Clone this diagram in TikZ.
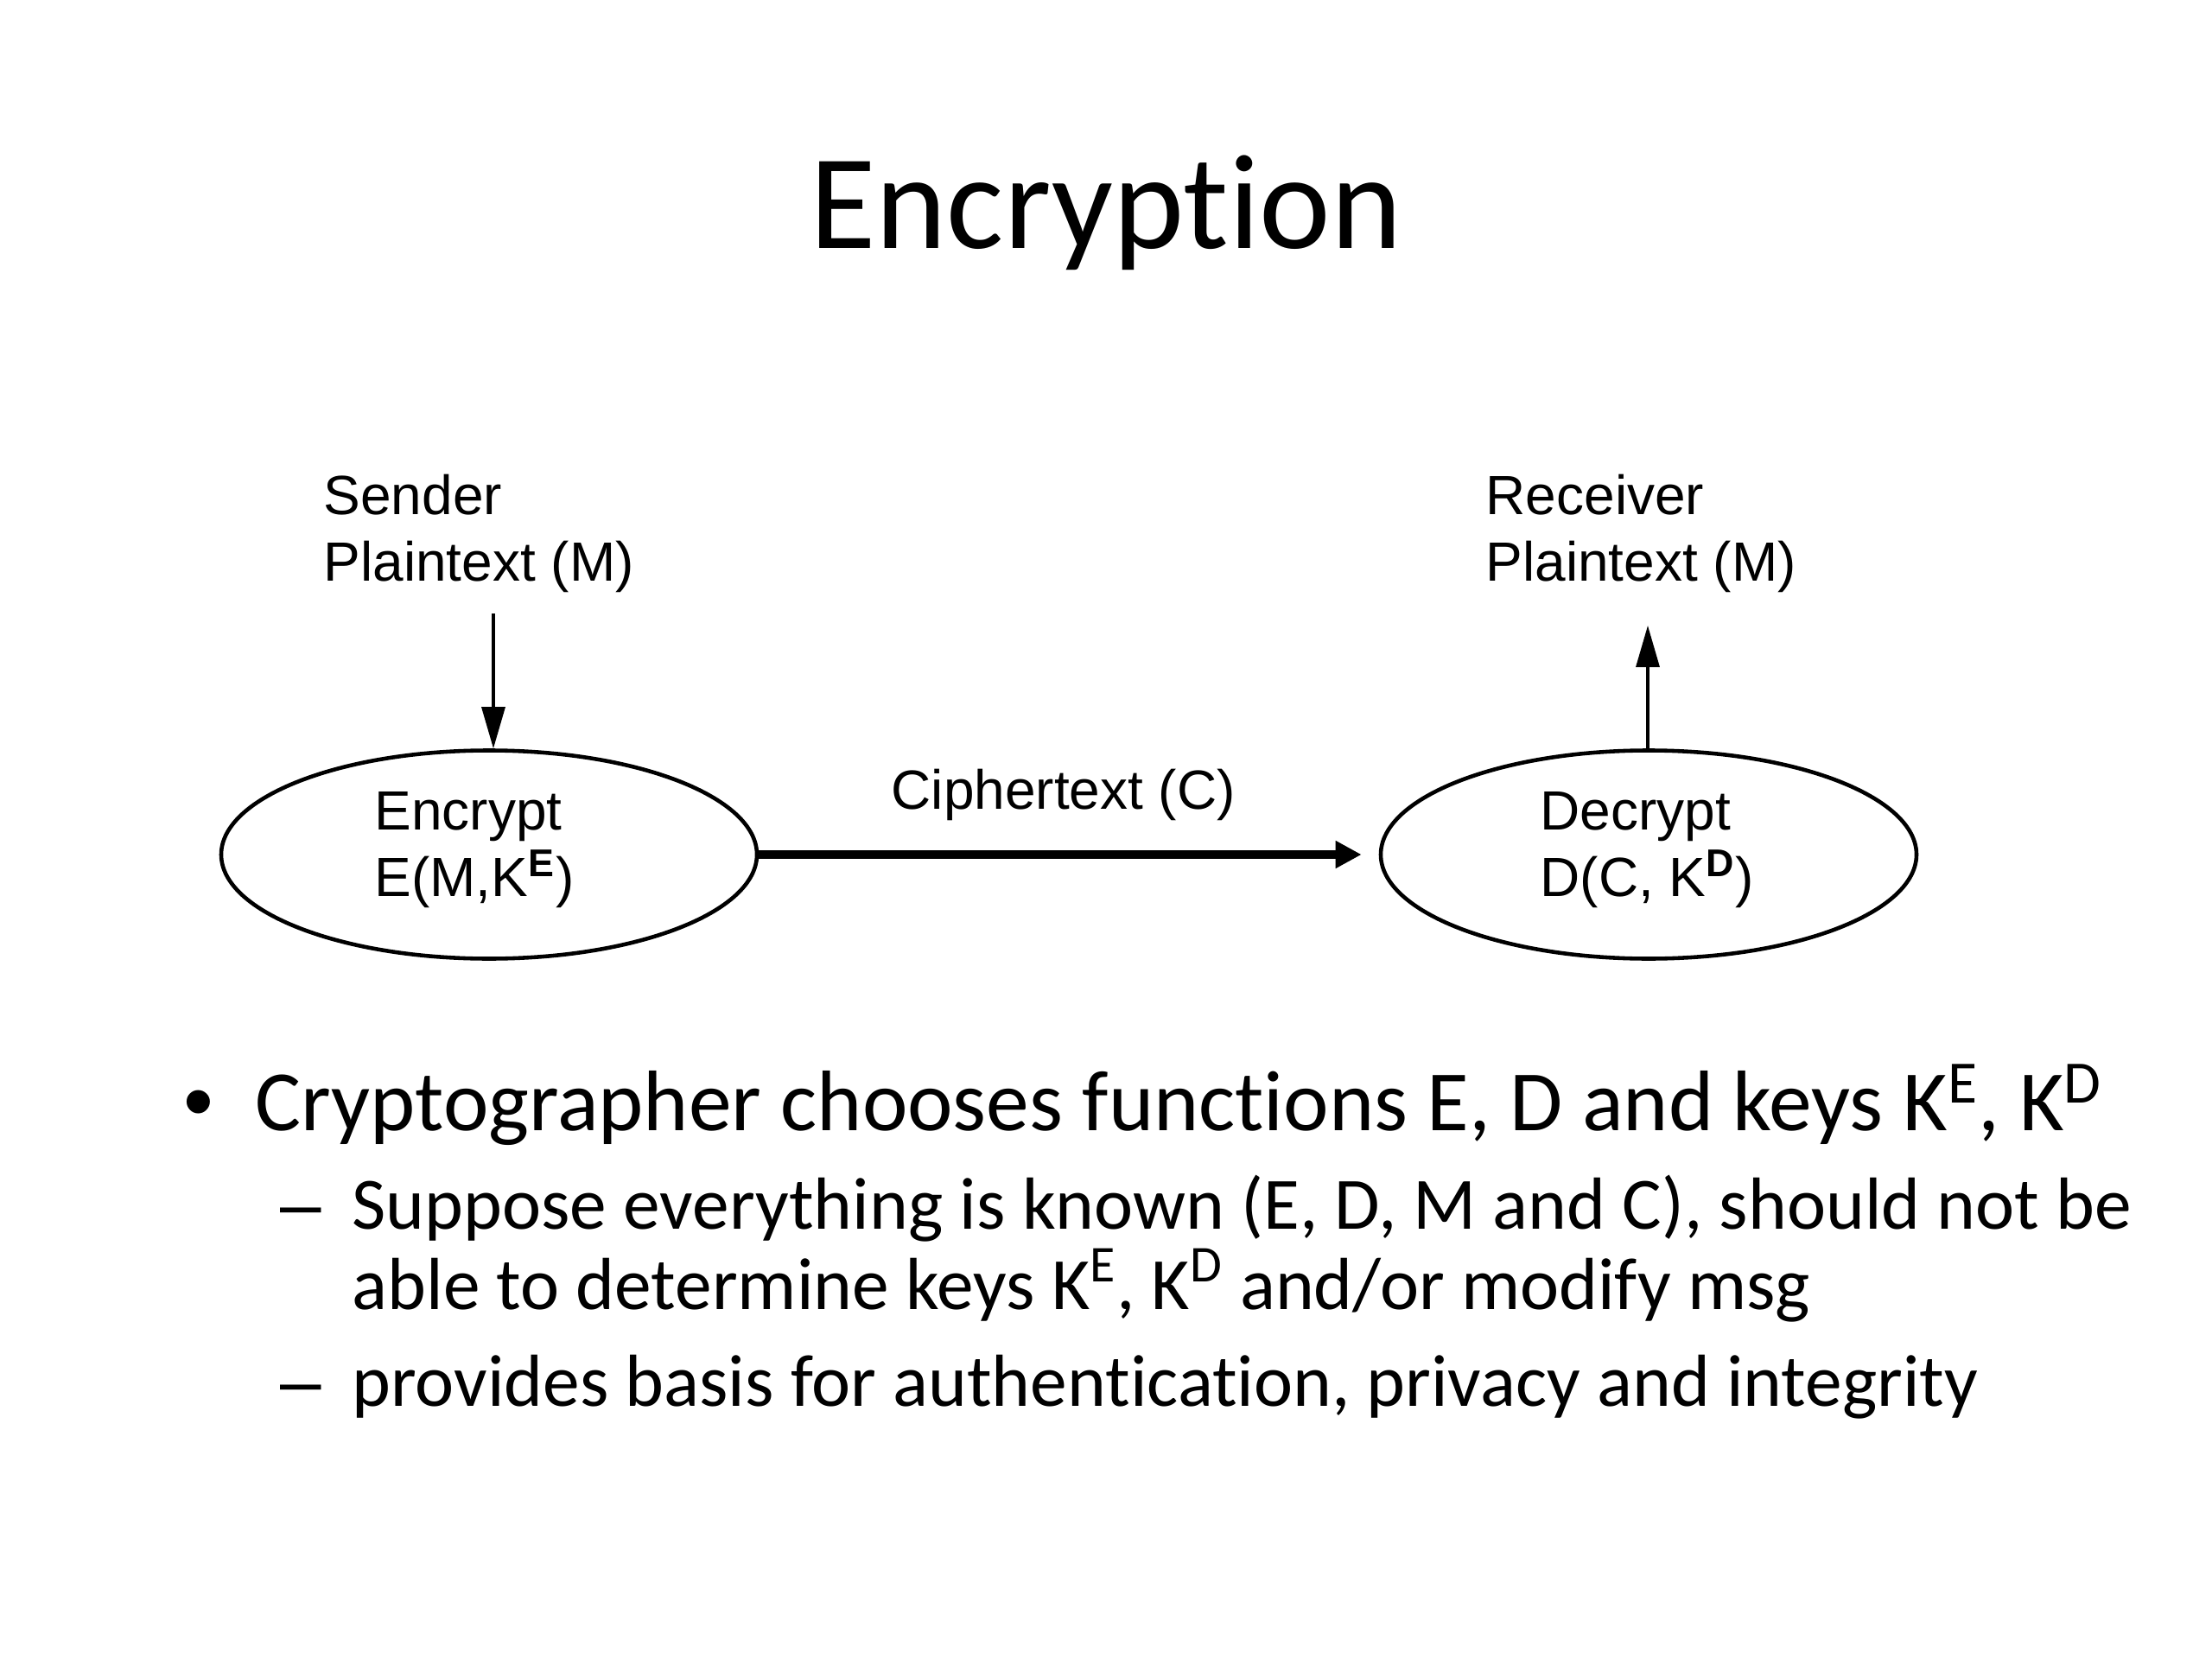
\documentclass[tikz,border=0pt]{standalone}
\usepackage{fontspec}
\setmainfont{Carlito}[Ligatures=CommonOff]
\newfontfamily\arialfont{Liberation Sans}
\usetikzlibrary{shapes.geometric,arrows.meta}

\begin{document}
\begin{tikzpicture}[
        lbl/.style={font=\arialfont\fontsize{18.2}{21.7}\selectfont, align=left, inner sep=0pt},
        proc/.style={draw, ellipse, line width=1.3pt, minimum width=6.2cm, minimum height=2.41cm, inner sep=0pt},
        flow/.style={line width=0.9pt, -{Triangle[length=4.8mm,width=2.7mm]}},
        channel/.style={line width=3pt, -{Triangle[length=3mm,width=3mm]}, shorten >=0.2cm},
        txt/.style={anchor=base west, inner sep=0pt}
    ]
        \useasboundingbox[fill=white] (0,0) rectangle (25.6,-19.2);
        \node[anchor=base, inner sep=0pt] (title) at (12.80,-2.88) {\fontsize{44.5}{53}\selectfont Encryption};

        % multi-line labels sit on their last baseline
        \node[lbl, anchor=base west] (sender) at (3.74,-6.72) {Sender\\Plaintext (M)};
        \node[lbl, anchor=base west] (receiver) at (17.19,-6.72) {Receiver\\Plaintext (M)};

        \node[proc] (enc) at (5.66,-9.89) {};
        \node[proc] (dec) at (19.08,-9.89) {};
        \node[lbl, anchor=base west] (enclbl) at (4.33,-10.37) {Encrypt\\E(M,K\textsuperscript{\bfseries E})};
        \node[lbl, anchor=base west] (declbl) at (17.82,-10.37) {Decrypt\\D(C, K\textsuperscript{\bfseries D})};
        \node[lbl, anchor=base west] (ciph) at (10.31,-9.36) {Ciphertext (C)};

        \coordinate (sendend) at (5.71,-7.10);
        \coordinate (recvend) at (19.07,-7.24);
        \draw[flow] (sendend) -- (sendend |- enc.north);
        \draw[flow] (recvend |- dec.north) -- (recvend);
        \draw[channel] (enc.east) -- (dec.west);

        % bullet text
        \node[txt] (dot) at (2.12,-13.08) {\arialfont\fontsize{28.3}{34}\selectfont •};
        \node[txt] (pt1) at (2.95,-13.08) {\fontsize{28.3}{34}\selectfont Cryptographer chooses functions E, D and keys K\textsuperscript{E}, K\textsuperscript{D}};
        \node[txt] (dash1) at (3.24,-14.22) {\arialfont\fontsize{24.3}{29}\selectfont –};
        \node[txt] (pt2) at (4.07,-14.22) {\fontsize{24.3}{29}\selectfont Suppose everything is known (E, D, M and C), should not be};
        \node[txt] (pt3) at (4.07,-15.15) {\fontsize{24.3}{29}\selectfont able to determine keys K\textsuperscript{E}, K\textsuperscript{D} and/or modify msg};
        \node[txt] (dash2) at (3.24,-16.27) {\arialfont\fontsize{24.3}{29}\selectfont –};
        \node[txt] (pt4) at (4.07,-16.27) {\fontsize{24.3}{29}\selectfont provides basis for authentication, privacy and integrity};
    \end{tikzpicture}
\end{document}
